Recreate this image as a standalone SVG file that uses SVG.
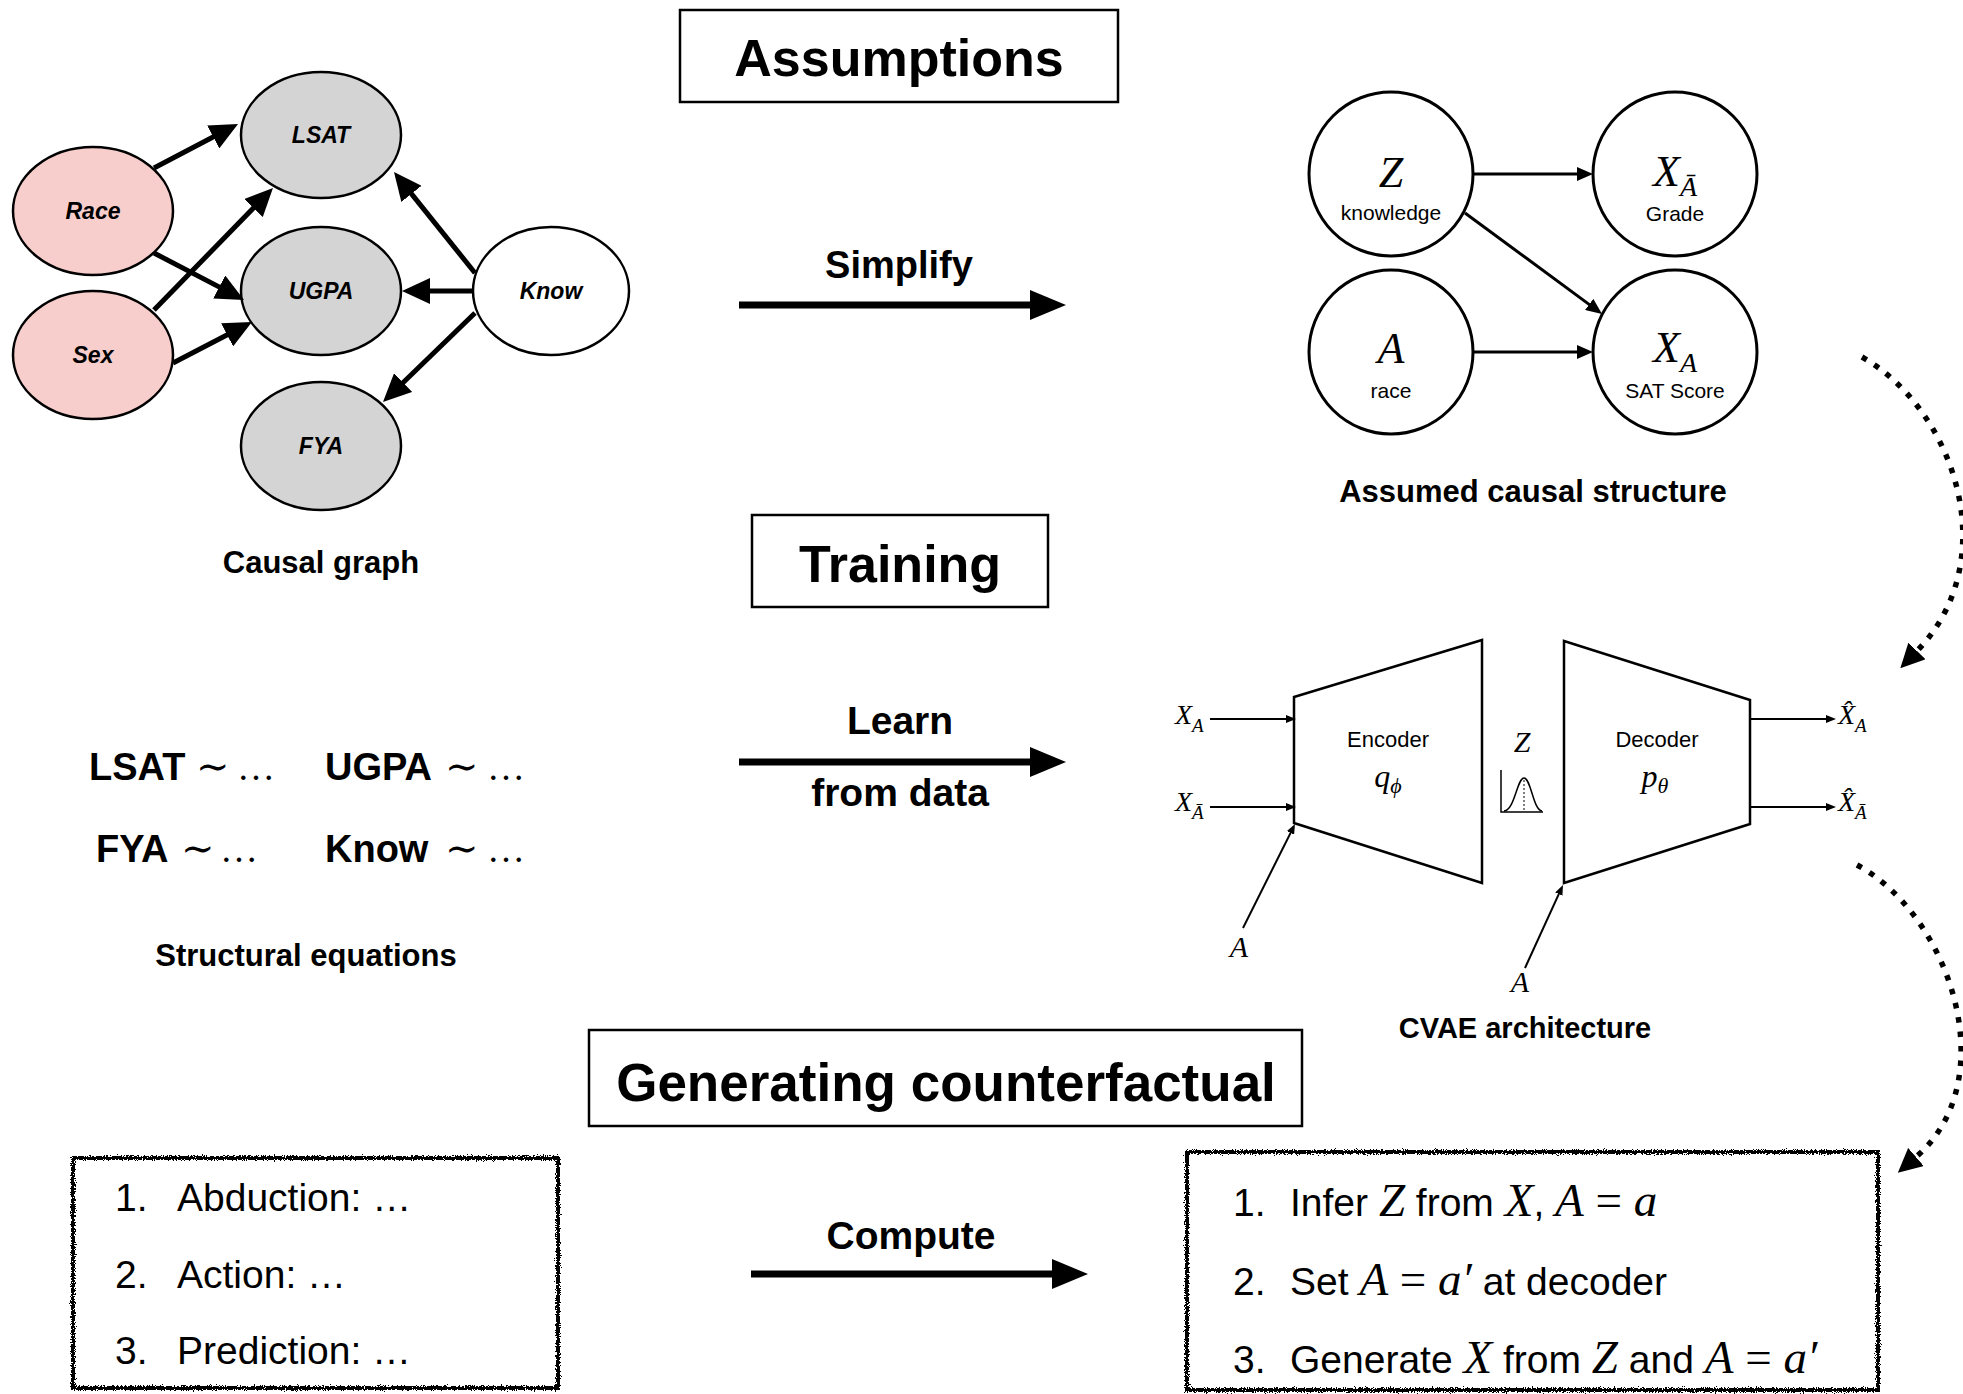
<svg xmlns="http://www.w3.org/2000/svg" width="1963" height="1394" viewBox="0 0 1963 1394">
  <defs>
    <style>
      text { fill: #000; }
      .sans { font-family: "Liberation Sans", Arial, Helvetica, sans-serif; }
      .bold { font-family: "Liberation Sans", Arial, Helvetica, sans-serif; font-weight: bold; }
      .math { font-family: "Liberation Serif", "DejaVu Serif", "Times New Roman", serif; font-style: italic; }
      .rm { font-family: "Liberation Serif", "DejaVu Serif", "Times New Roman", serif; font-style: normal; }
      .op { font-family: "DejaVu Serif", "Liberation Serif", serif; font-weight: normal; }
      .mid { text-anchor: middle; }
      .title { font-size: 52px; }
      .caption { font-size: 31px; }
      .frame { fill: #fff; stroke: #000; stroke-width: 2.5; }
      .sketch { fill: none; stroke: #000; stroke-width: 4; filter: url(#rough); }
      .cg { stroke: #000; stroke-width: 2.5; }
      .cg-lbl { font-family: "Liberation Sans", Arial, sans-serif; font-weight: bold; font-style: italic; font-size: 23px; text-anchor: middle; }
      .pink { fill: #F8CECC; }
      .grey { fill: #D4D4D4; }
      .white { fill: #fff; }
      .circ { fill: #fff; stroke: #000; stroke-width: 3; }
      .trap { fill: #fff; stroke: #000; stroke-width: 2.5; }
      .edge-cg { stroke: #000; stroke-width: 5; fill: none; marker-end: url(#ah-cg); }
      .edge-big { stroke: #000; stroke-width: 7; fill: none; marker-end: url(#ah-big); }
      .edge-mid { stroke: #000; stroke-width: 3; fill: none; marker-end: url(#ah-mid); }
      .edge-sm { stroke: #000; stroke-width: 2; fill: none; marker-end: url(#ah-sm); }
      .edge-dot { stroke: #000; stroke-width: 5.5; fill: none; stroke-dasharray: 5.5 9; marker-end: url(#ah-dot); }
      .item { font-size: 39px; }
      .eqv { font-size: 38px; }
      .head { fill: #000; stroke: none; }
    </style>
    <marker id="ah-cg" markerUnits="userSpaceOnUse" markerWidth="28" markerHeight="26" viewBox="0 0 28 26" refX="16" refY="13" orient="auto">
      <path class="head" d="M0,0 L28,13 L0,26 z"/>
    </marker>
    <marker id="ah-big" markerUnits="userSpaceOnUse" markerWidth="36" markerHeight="30" viewBox="0 0 36 30" refX="24" refY="15" orient="auto">
      <path class="head" d="M0,0 L36,15 L0,30 z"/>
    </marker>
    <marker id="ah-mid" markerUnits="userSpaceOnUse" markerWidth="16" markerHeight="14" viewBox="0 0 16 14" refX="10" refY="7" orient="auto">
      <path class="head" d="M0,0 L16,7 L0,14 z"/>
    </marker>
    <marker id="ah-sm" markerUnits="userSpaceOnUse" markerWidth="10" markerHeight="8" viewBox="0 0 10 8" refX="6" refY="4" orient="auto">
      <path class="head" d="M0,0 L10,4 L0,8 z"/>
    </marker>
    <marker id="ah-dot" markerUnits="userSpaceOnUse" markerWidth="24" markerHeight="24" viewBox="0 0 24 24" refX="0" refY="12" orient="auto">
      <path class="head" d="M0,0 L24,12 L0,24 z"/>
    </marker>
    <filter id="rough" x="-5%" y="-5%" width="110%" height="110%">
      <feTurbulence type="fractalNoise" baseFrequency="0.9" numOctaves="2" seed="7" result="noise"/>
      <feDisplacementMap in="SourceGraphic" in2="noise" scale="6" xChannelSelector="R" yChannelSelector="G"/>
    </filter>
  </defs>

  <rect width="1963" height="1394" fill="#fff"/>

  <!-- Section headings -->
  <g id="heading-assumptions">
    <rect class="frame" x="680" y="10" width="438" height="92"/>
    <text class="bold mid title" x="899" y="76">Assumptions</text>
  </g>
  <g id="heading-training">
    <rect class="frame" x="752" y="515" width="296" height="92"/>
    <text class="bold mid title" x="900" y="582">Training</text>
  </g>
  <g id="heading-generating">
    <rect class="frame" x="589" y="1030" width="713" height="96"/>
    <text class="bold mid" font-size="53" x="946" y="1101">Generating counterfactual</text>
  </g>

  <!-- Causal graph -->
  <g id="node-race">
    <ellipse class="cg pink" cx="93" cy="211" rx="80" ry="64"/>
    <text class="cg-lbl" x="93" y="219">Race</text>
  </g>
  <g id="node-sex">
    <ellipse class="cg pink" cx="93" cy="355" rx="80" ry="64"/>
    <text class="cg-lbl" x="93" y="363">Sex</text>
  </g>
  <g id="node-lsat">
    <ellipse class="cg grey" cx="321" cy="135" rx="80" ry="63"/>
    <text class="cg-lbl" x="321" y="143">LSAT</text>
  </g>
  <g id="node-ugpa">
    <ellipse class="cg grey" cx="321" cy="291" rx="80" ry="64"/>
    <text class="cg-lbl" x="321" y="299">UGPA</text>
  </g>
  <g id="node-fya">
    <ellipse class="cg grey" cx="321" cy="446" rx="80" ry="64"/>
    <text class="cg-lbl" x="321" y="454">FYA</text>
  </g>
  <g id="node-know">
    <ellipse class="cg white" cx="551" cy="291" rx="78" ry="64"/>
    <text class="cg-lbl" x="551" y="299">Know</text>
  </g>
  <text id="caption-causal-graph" class="bold mid caption" x="321" y="573">Causal graph</text>

  <!-- Structural equations -->
  <g id="node-equations">
    <text y="780"><tspan class="bold eqv" x="89">LSAT</tspan><tspan class="op" font-size="40" x="196">∼</tspan><tspan class="rm" font-size="38" x="237">…</tspan></text>
    <text y="780"><tspan class="bold eqv" x="325">UGPA</tspan><tspan class="op" font-size="40" x="445">∼</tspan><tspan class="rm" font-size="38" x="487">…</tspan></text>
    <text y="862"><tspan class="bold eqv" x="96">FYA</tspan><tspan class="op" font-size="40" x="181">∼</tspan><tspan class="rm" font-size="38" x="220">…</tspan></text>
    <text y="862"><tspan class="bold eqv" x="325">Know</tspan><tspan class="op" font-size="40" x="445">∼</tspan><tspan class="rm" font-size="38" x="487">…</tspan></text>
  </g>
  <text id="caption-equations" class="bold mid caption" x="306" y="966">Structural equations</text>

  <!-- Assumed causal structure -->
  <g id="node-z">
    <circle class="circ" cx="1391" cy="174" r="82"/>
    <text class="math mid" x="1391" y="187" font-size="44">Z</text>
    <text class="sans mid" x="1391" y="220" font-size="21">knowledge</text>
  </g>
  <g id="node-xabar">
    <circle class="circ" cx="1675" cy="174" r="82"/>
    <text class="math mid" x="1675" y="186" font-size="44">X<tspan font-size="28" dy="10">Ā</tspan></text>
    <text class="sans mid" x="1675" y="221" font-size="21">Grade</text>
  </g>
  <g id="node-a">
    <circle class="circ" cx="1391" cy="352" r="82"/>
    <text class="math mid" x="1391" y="363" font-size="44">A</text>
    <text class="sans mid" x="1391" y="398" font-size="21">race</text>
  </g>
  <g id="node-xa">
    <circle class="circ" cx="1675" cy="352" r="82"/>
    <text class="math mid" x="1675" y="362" font-size="44">X<tspan font-size="28" dy="10">A</tspan></text>
    <text class="sans mid" x="1675" y="398" font-size="21">SAT Score</text>
  </g>
  <text id="caption-assumed" class="bold mid caption" x="1533" y="502">Assumed causal structure</text>

  <!-- CVAE -->
  <g id="node-encoder">
    <polygon class="trap" points="1294,697 1482,640 1482,883 1294,823"/>
    <text class="sans mid" x="1388" y="747" font-size="22">Encoder</text>
    <text class="math mid" x="1388" y="787" font-size="32">q<tspan font-size="22" dy="6">ϕ</tspan></text>
  </g>
  <g id="node-latent">
    <text class="math mid" x="1522" y="752" font-size="30">Z</text>
    <path d="M1501,770 L1501,812 L1543,812" fill="none" stroke="#000" stroke-width="1.5"/>
    <path d="M1504,811 C1515,810 1517,778 1524,778 C1531,778 1533,810 1542,811" fill="none" stroke="#000" stroke-width="1.5"/>
    <line x1="1524" y1="780" x2="1524" y2="811" stroke="#000" stroke-width="1" stroke-dasharray="2 2"/>
  </g>
  <g id="node-decoder">
    <polygon class="trap" points="1564,641 1750,700 1750,824 1564,883"/>
    <text class="sans mid" x="1657" y="747" font-size="22">Decoder</text>
    <text class="math mid" x="1655" y="787" font-size="32">p<tspan font-size="22" dy="6">θ</tspan></text>
  </g>
  <g id="cvae-inputs">
    <text class="math" x="1175" y="724" font-size="28">X<tspan font-size="19" dy="8">A</tspan></text>
    <text class="math" x="1175" y="811" font-size="28">X<tspan font-size="19" dy="8">Ā</tspan></text>
    <text class="math mid" x="1239" y="957" font-size="30">A</text>
    <text class="math mid" x="1520" y="992" font-size="30">A</text>
  </g>
  <g id="cvae-outputs">
    <text class="math" x="1838" y="724" font-size="28">X̂<tspan font-size="19" dy="8">A</tspan></text>
    <text class="math" x="1838" y="811" font-size="28">X̂<tspan font-size="19" dy="8">Ā</tspan></text>
  </g>
  <text id="caption-cvae" class="bold mid" font-size="29" x="1525" y="1038">CVAE architecture</text>

  <!-- Counterfactual steps -->
  <g id="node-steps-scm">
    <rect class="sketch" x="73" y="1158" width="485" height="230"/>
    <text class="sans item" y="1211"><tspan x="115">1.</tspan><tspan x="177">Abduction: …</tspan></text>
    <text class="sans item" y="1288"><tspan x="115">2.</tspan><tspan x="177">Action: …</tspan></text>
    <text class="sans item" y="1364"><tspan x="115">3.</tspan><tspan x="177">Prediction: …</tspan></text>
  </g>
  <g id="node-steps-cvae">
    <rect class="sketch" x="1187" y="1152" width="691" height="238"/>
    <text class="sans item" y="1216"><tspan x="1233">1.</tspan><tspan x="1290">Infer </tspan><tspan class="math" font-size="47">Z</tspan><tspan> from </tspan><tspan class="math" font-size="47">X</tspan><tspan>, </tspan><tspan class="math" font-size="47">A</tspan><tspan class="rm" font-size="47"> = </tspan><tspan class="math" font-size="47">a</tspan></text>
    <text class="sans item" y="1295"><tspan x="1233">2.</tspan><tspan x="1290">Set </tspan><tspan class="math" font-size="47">A</tspan><tspan class="rm" font-size="47"> = </tspan><tspan class="math" font-size="47">a′</tspan><tspan> at decoder</tspan></text>
    <text class="sans item" y="1373"><tspan x="1233">3.</tspan><tspan x="1290">Generate </tspan><tspan class="math" font-size="47">X</tspan><tspan> from </tspan><tspan class="math" font-size="47">Z</tspan><tspan> and </tspan><tspan class="math" font-size="47">A</tspan><tspan class="rm" font-size="47"> = </tspan><tspan class="math" font-size="47">a′</tspan></text>
  </g>

  <!-- Connectors -->
  <g id="connectors">
    <!-- causal graph edges -->
    <path class="edge-cg" d="M154,168 L227.4,129.5"/>
    <path class="edge-cg" d="M154,253 L233.4,294.4"/>
    <path class="edge-cg" d="M154,310 L264.6,196.6"/>
    <path class="edge-cg" d="M173,363 L241.3,327.5"/>
    <path class="edge-cg" d="M475,273 L401.5,181.4"/>
    <path class="edge-cg" d="M474,291 L414,291"/>
    <path class="edge-cg" d="M475,313 L391.6,393.7"/>

    <!-- stage arrows with labels -->
    <path class="edge-big" d="M739,305 L1054,305"/>
    <text class="bold mid" font-size="38" x="899" y="278">Simplify</text>
    <path class="edge-big" d="M739,762 L1054,762"/>
    <text class="bold mid" font-size="39" x="900" y="734">Learn</text>
    <text class="bold mid" font-size="39" x="900" y="806">from data</text>
    <path class="edge-big" d="M751,1274 L1076,1274"/>
    <text class="bold mid" font-size="39" x="911" y="1249">Compute</text>

    <!-- assumed causal structure edges -->
    <path class="edge-mid" d="M1473,174 L1587,174"/>
    <path class="edge-mid" d="M1473,352 L1587,352"/>
    <path class="edge-mid" d="M1465,213 L1597.2,310.4"/>

    <!-- CVAE edges -->
    <path class="edge-sm" d="M1210,719 L1292,719"/>
    <path class="edge-sm" d="M1210,807 L1292,807"/>
    <path class="edge-sm" d="M1243,928 L1293.2,827.6"/>
    <path class="edge-sm" d="M1525,968 L1561.3,888.6"/>
    <path class="edge-sm" d="M1750,719 L1832,719"/>
    <path class="edge-sm" d="M1750,807 L1832,807"/>

    <!-- flow between rows -->
    <path class="edge-dot" d="M1862,357 C1955,410 2005,560 1917,651"/>
    <path class="edge-dot" d="M1857,865 C1950,915 2005,1080 1916,1157"/>
  </g>
</svg>
